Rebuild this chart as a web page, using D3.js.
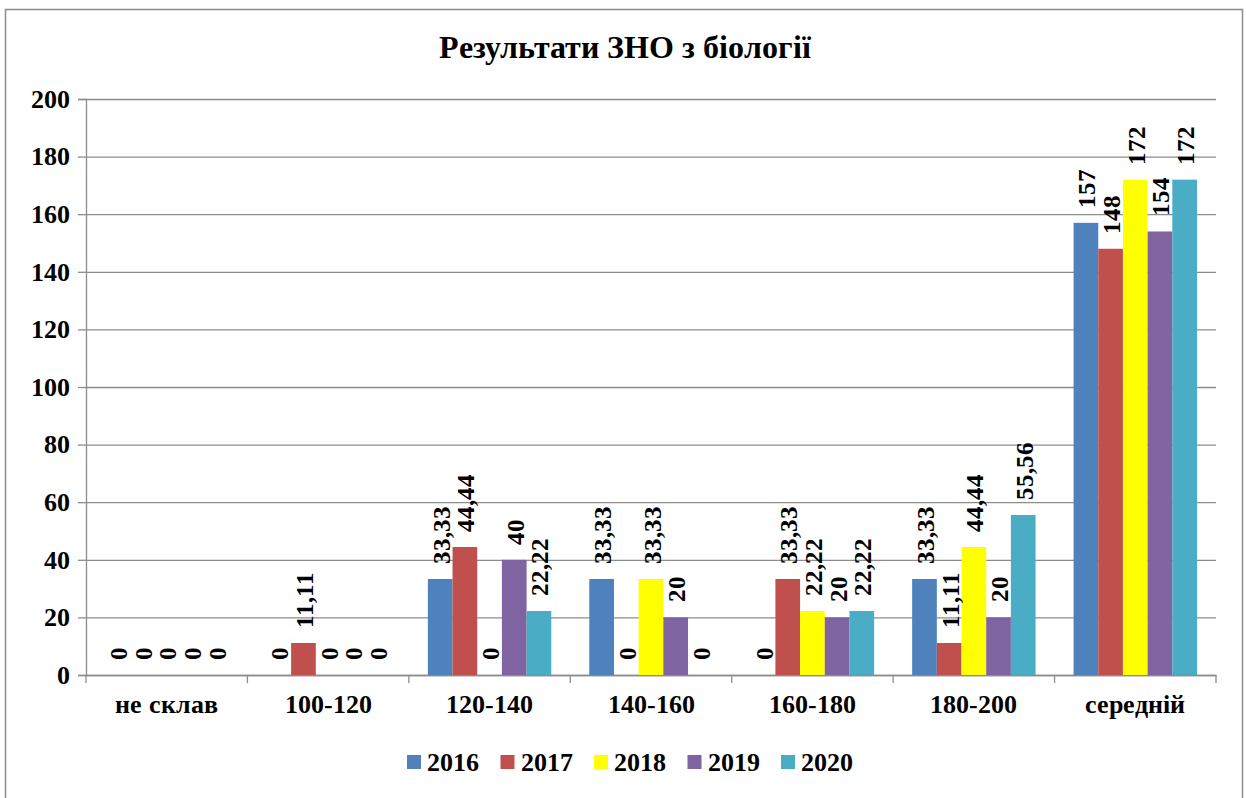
<!DOCTYPE html>
<html>
<head>
<meta charset="utf-8">
<script src="https://cdn.jsdelivr.net/npm/d3@7"></script>
<style>
	@font-face {
		font-family: "ChartSerif";
		src: local("Liberation Serif Bold"), local("LiberationSerif-Bold"), local("Liberation Serif");
		font-weight: bold;
	}
	body { margin: 0; }
	#chart text { font-family: "ChartSerif", "Liberation Serif", "Times New Roman", serif; font-weight: bold; }
</style>
</head>
<body>
<div id="chart"></div>
<script>
const categories = ["не склав", "100-120", "120-140", "140-160", "160-180", "180-200", "середній"];
const years = ["2016", "2017", "2018", "2019", "2020"];
const colors = ["#4F81BD", "#C0504D", "#FFFF00", "#8064A2", "#4BACC6"];
const values2016 = [0, 0, 33.33, 33.33, 0, 33.33, 157];
const values2017 = [0, 11.11, 44.44, 0, 33.33, 11.11, 148];
const values2018 = [0, 0, 0, 33.33, 22.22, 44.44, 172];
const values2019 = [0, 0, 40, 20, 20, 20, 154];
const values2020 = [0, 0, 22.22, 0, 22.22, 55.56, 172];
const yTicks = [0, 20, 40, 60, 80, 100, 120, 140, 160, 180, 200];

const series = [values2016, values2017, values2018, values2019, values2020];

const width = 1246;
const height = 798;
const margin = {
	top: 99, right: 30, bottom: 123, left: 86
};
const plotW = width - margin.left - margin.right;
const plotH = height - margin.top - margin.bottom;

/* eslint-disable indent */
const svg = d3.select("#chart")
	.append("svg")
		.attr("width", width)
		.attr("height", height);

// outer frame
svg.append("rect")
	.attr("x", 5.5)
	.attr("y", 9.5)
	.attr("width", 1237)
	.attr("height", 800)
	.attr("fill", "none")
	.attr("stroke", "#8c8c8c")
	.attr("stroke-width", 1.5);

// title
svg.append("text")
	.attr("x", 625)
	.attr("y", 47)
	.attr("text-anchor", "middle")
	.attr("dominant-baseline", "central")
	.attr("font-size", 32)
	.text("Результати ЗНО з біології");

const g = svg.append("g")
	.attr("transform", `translate(${margin.left},${margin.top})`);

const x = d3.scaleBand()
	.domain(categories)
	.range([0, plotW]);
const xInner = d3.scaleBand()
	.domain(years)
	.range([0, x.bandwidth()])
	.paddingInner(0)
	.paddingOuter(0.77);
const y = d3.scaleLinear()
	.domain([0, 200])
	.range([plotH, 0]);

// gridlines + y axis
g.append("g")
		.call(d3.axisLeft(y).tickValues(yTicks).tickSize(-plotW).tickPadding(16).tickFormat(d3.format("d")))
		.call(s => s.select(".domain").remove())
		.call(s => s.selectAll(".tick line").attr("stroke", "#8c8c8c").attr("stroke-width", 1.3))
	.selectAll("text")
		.attr("font-size", 26)
		.attr("fill", "#000");
g.append("g")
		.call(d3.axisLeft(y).tickValues(yTicks).tickSize(8).tickFormat(""))
		.call(s => s.selectAll("line, path").attr("stroke", "#8c8c8c").attr("stroke-width", 1.3));

// x axis
g.append("g")
		.attr("transform", `translate(0,${plotH})`)
		.call(d3.axisBottom(x).tickSize(0).tickPadding(20))
		.call(s => s.select(".domain").attr("stroke", "#8c8c8c").attr("stroke-width", 1.3))
	.selectAll("text")
		.attr("font-size", 26)
		.attr("fill", "#000");
g.append("g")
	.selectAll("line")
	.data(d3.range(categories.length + 1))
	.join("line")
		.attr("x1", i => i * x.step())
		.attr("x2", i => i * x.step())
		.attr("y1", plotH)
		.attr("y2", plotH + 8)
		.attr("stroke", "#8c8c8c")
		.attr("stroke-width", 1.3);

// bars
const groups = g.selectAll(".grp")
	.data(categories)
	.join("g")
		.attr("class", "grp")
		.attr("transform", d => `translate(${x(d)},0)`);

const fmt = v => String(v).replace(".", ",");

groups.selectAll("rect")
	.data((c, ci) => series.map((s, si) => ({year: years[si], value: s[ci], color: colors[si]})))
	.join("rect")
		.attr("x", d => xInner(d.year))
		.attr("y", d => y(d.value))
		.attr("width", xInner.bandwidth())
		.attr("height", d => plotH - y(d.value))
		.attr("fill", d => d.color);

groups.selectAll("text")
	.data((c, ci) => series.map((s, si) => ({year: years[si], value: s[ci]})))
	.join("text")
		.attr("transform", d => `translate(${xInner(d.year) + xInner.bandwidth() / 2 + 1},${y(d.value) - 15}) rotate(-90)`)
		.attr("dominant-baseline", "central")
		.attr("font-size", 25)
		.text(d => fmt(d.value));

// legend
const legend = svg.append("g")
	.selectAll("g")
	.data(years)
	.join("g")
		.attr("transform", (d, i) => `translate(${407 + i * 93.5},755)`);
legend.append("rect")
	.attr("width", 14)
	.attr("height", 14)
	.attr("fill", (d, i) => colors[i]);
legend.append("text")
	.attr("x", 20)
	.attr("y", 7)
	.attr("dominant-baseline", "central")
	.attr("font-size", 26)
	.text(d => d);
/* eslint-enable */
</script>
</body>
</html>
